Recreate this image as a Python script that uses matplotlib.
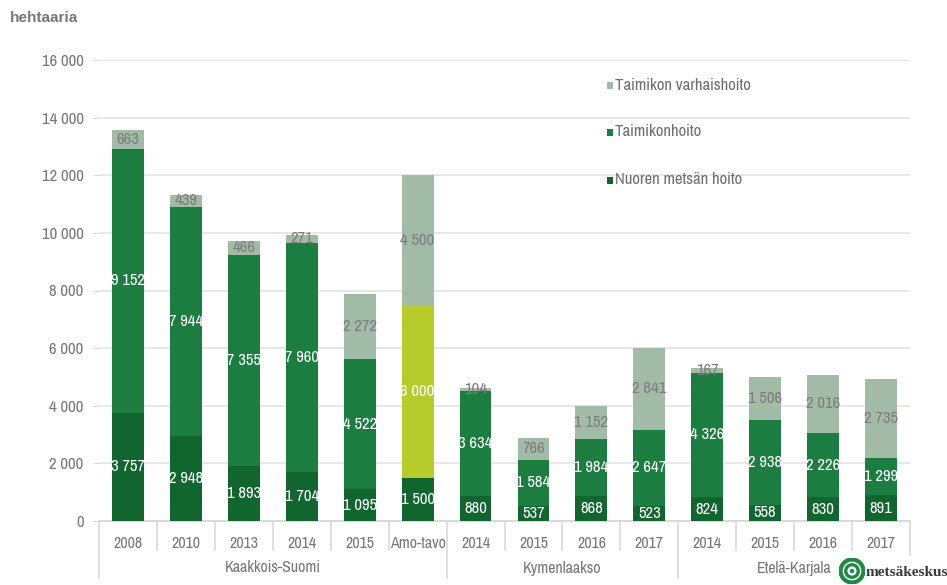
import matplotlib
matplotlib.use("Agg")
import matplotlib.pyplot as plt
import matplotlib.transforms as mtransforms
from matplotlib.patches import Circle, Rectangle

plt.rcParams['font.family'] = ['Archivo Narrow', 'Liberation Sans', 'DejaVu Sans']

# Categories (years) and their regional groups
categories = ["2008", "2010", "2013", "2014", "2015", "Amo-tavo",
              "2014", "2015", "2016", "2017",
              "2014", "2015", "2016", "2017"]
groups = ["Kaakkois-Suomi", "Kymenlaakso", "Etelä-Karjala"]
group_sizes = [6, 4, 4]

# Hectares per work type (stacked bottom -> top)
nuoren_metsan_hoito = [3757, 2948, 1893, 1704, 1095, 1500,
                       880, 537, 868, 523,
                       824, 558, 830, 891]
taimikonhoito = [9152, 7944, 7355, 7960, 4522, 6000,
                 3634, 1584, 1984, 2647,
                 4326, 2938, 2226, 1299]
taimikon_varhaishoito = [663, 439, 466, 271, 2272, 4500,
                         104, 766, 1152, 2841,
                         167, 1506, 2016, 2735]

series_names = ["Nuoren metsän hoito", "Taimikonhoito", "Taimikon varhaishoito"]
yticks = [0, 2000, 4000, 6000, 8000, 10000, 12000, 14000, 16000]

C_DARK = "#11652f"
C_MID = "#1b7d40"
C_GRAY = "#a2bba6"
C_LIME = "#b5cc2b"
TXT = "#777777"
mid_colors = [C_LIME if c == "Amo-tavo" else C_MID for c in categories]

fig = plt.figure(figsize=(9.47, 5.85), dpi=100)
ax = fig.add_axes([99 / 947, 1 - 521 / 585, 811 / 947, 461 / 585])

x = list(range(len(categories)))
w = 0.55
b1 = ax.bar(x, nuoren_metsan_hoito, w, color=C_DARK, label=series_names[0], zorder=3)
bottom2 = nuoren_metsan_hoito
b2 = ax.bar(x, taimikonhoito, w, bottom=bottom2, color=mid_colors, label=series_names[1], zorder=3)
bottom3 = [a + b for a, b in zip(nuoren_metsan_hoito, taimikonhoito)]
b3 = ax.bar(x, taimikon_varhaishoito, w, bottom=bottom3, color=C_GRAY, label=series_names[2], zorder=3)


def fmt(v):
    return f"{v:,}".replace(",", " ")


for vals, bots, col in [(nuoren_metsan_hoito, [0] * len(x), "white"),
                        (taimikonhoito, bottom2, "white"),
                        (taimikon_varhaishoito, bottom3, "#7d7d7d")]:
    for xi, v, b in zip(x, vals, bots):
        ax.text(xi, b + v / 2, fmt(v), ha="center", va="center",
                color=col, fontsize=12, zorder=4)

ax.set_xlim(-0.5, len(categories) - 0.5)
ax.set_ylim(0, 16000)
ax.set_yticks(yticks)
ax.set_yticklabels([fmt(t) for t in yticks], color=TXT, fontsize=12)
ax.tick_params(axis="y", length=4, color="#d9d9d9", pad=7)
ax.grid(axis="y", color="#e3e3e3", linewidth=1.2, zorder=0)
for s in ["top", "right", "left"]:
    ax.spines[s].set_visible(False)
ax.spines["bottom"].set_color("#d6d6d6")
ax.spines["bottom"].set_linewidth(1.2)
ax.set_xticks(x)
ax.set_xticklabels(categories, color=TXT, fontsize=11.5)
ax.tick_params(axis="x", length=0, pad=11)

# Category and group separators below the axis
trans = mtransforms.blended_transform_factory(ax.transData, ax.transAxes)
ax_h = 461.0
group_edges = [-0.5]
for n in group_sizes:
    group_edges.append(group_edges[-1] + n)
for i in range(len(categories) + 1):
    xe = i - 0.5
    if xe == group_edges[-1]:
        y1 = -34 / ax_h
    elif xe in group_edges:
        y1 = -57 / ax_h
    else:
        y1 = -29 / ax_h
    ax.plot([xe, xe], [0, y1], transform=trans, color="#d9d9d9",
            linewidth=1.2, clip_on=False, zorder=1)

for g, a, bnd in zip(groups, group_edges[:-1], group_edges[1:]):
    ax.text((a + bnd) / 2, -47 / ax_h, g, transform=trans, ha="center",
            va="center", color=TXT, fontsize=11.5)

# Legend: small square swatches with labels
legend_items = [(series_names[2], C_GRAY, 85), (series_names[1], C_MID, 132),
                (series_names[0], C_DARK, 180)]
for name, col, ypx in legend_items:
    fig.patches.append(Rectangle((607 / 947, 1 - (ypx + 3.5) / 585), 6 / 947, 7 / 585,
                                 transform=fig.transFigure, facecolor=col,
                                 edgecolor="none"))
    fig.text(615 / 947, 1 - ypx / 585, name, ha="left", va="center",
             color="#6e6e6e", fontsize=12)

# Axis title
fig.text(10 / 947, 1 - 18 / 585, "hehtaaria", ha="left", va="center",
         color=TXT, fontsize=11, fontweight="bold",
         family=["Liberation Sans", "DejaVu Sans"])

# Logo
lax = fig.add_axes([839 / 947, 1 - 584 / 585, 26 / 947, 26 / 585])
lax.set_xlim(-1, 1)
lax.set_ylim(-1, 1)
lax.set_aspect("equal")
lax.axis("off")
lax.add_patch(Circle((0, 0), 0.88, facecolor="white", edgecolor="#1e8a45", linewidth=3.0))
lax.add_patch(Circle((0, 0), 0.48, facecolor="white", edgecolor="#1e8a45", linewidth=2.4))
lax.add_patch(Circle((0, 0), 0.17, facecolor="#1e8a45", edgecolor="none"))
fig.text(866 / 947, 1 - 572 / 585, "metsäkeskus", ha="left", va="center",
         color="#3a3a3a", fontsize=11, fontweight="bold",
         family=["Liberation Serif", "DejaVu Serif"])

fig.savefig("out.png", dpi=100)
